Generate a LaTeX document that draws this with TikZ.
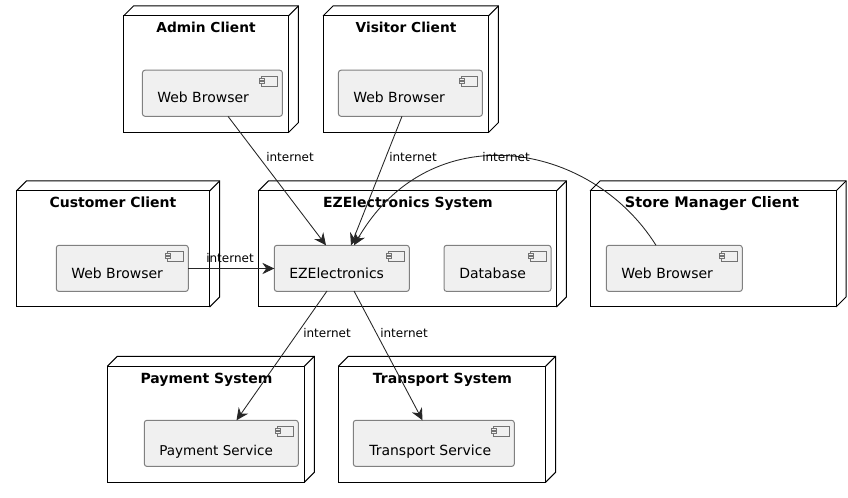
\documentclass[tikz,border=0pt]{standalone}
\usepackage{fontspec}
\setmainfont{DejaVu Sans}
\usetikzlibrary{arrows.meta}

\tikzset{
	hostbox/.style = {draw, line width = 0.75pt, rectangle, anchor = north west, inner sep = 0pt, outer sep = 0pt},
	partbox/.style = {draw = black!50, fill = black!6, line width = 0.75pt, rounded corners = 2pt,
		anchor = north west, inner sep = 0pt, outer sep = 0pt},
	partname/.style = {anchor = base west, inner sep = 0pt, font = \fontsize{10.5}{12}\selectfont},
	hosttitle/.style = {anchor = base, inner sep = 0pt, font = \fontsize{10.5}{12}\selectfont\bfseries},
	wirelabel/.style = {anchor = base west, inner sep = 0pt, font = \fontsize{9}{11}\selectfont},
	wire/.style = {-{Stealth[length = 9pt, width = 8.5pt, inset = 3pt]}, line width = 0.65pt, black!85},
}

% top and side faces of a host box
\newcommand{\hostlid}[1]{
	\draw [line width = 0.75pt] (#1.north west) -- ++(7.5pt, 7.5pt) -- ([shift = {(7.5pt, 7.5pt)}] #1.north east)
		-- ([shift = {(7.5pt, 7.5pt)}] #1.south east) -- (#1.south east);
	\draw [line width = 0.75pt] (#1.north east) -- ++(7.5pt, 7.5pt);
}

% small component mark at the corner of a part box
\newcommand{\partmark}[1]{
	\draw [line width = 0.5pt, black!55] ([shift = {(-15.5pt, -4.25pt)}] #1.north east) rectangle ([shift = {(-3.75pt, -11.75pt)}] #1.north east);
	\draw [line width = 0.5pt, black!55, fill = black!6] ([shift = {(-17pt, -6pt)}] #1.north east) rectangle ++(3.5pt, -1.5pt);
	\draw [line width = 0.5pt, black!55, fill = black!6] ([shift = {(-17pt, -8.5pt)}] #1.north east) rectangle ++(3.5pt, -1.5pt);
}

\begin{document}
\begin{tikzpicture}[x = 0.75pt, y = -0.75pt]

	\useasboundingbox (0, 0) rectangle (848, 498);

	% hosts
	\node [hostbox, minimum width = 123.6pt, minimum height = 87.5pt] (adminHost) at (123.5, 16) {};
	\node [hostbox, minimum width = 124pt, minimum height = 87.5pt] (visitorHost) at (323, 16) {};
	\node [hostbox, minimum width = 145pt, minimum height = 87pt] (customerHost) at (16.3, 191) {};
	\node [hostbox, minimum width = 223.5pt, minimum height = 87pt] (systemHost) at (258.3, 191) {};
	\node [hostbox, minimum width = 184.5pt, minimum height = 87pt] (managerHost) at (590, 191) {};
	\node [hostbox, minimum width = 147.75pt, minimum height = 87pt] (paymentHost) at (107.3, 366.3) {};
	\node [hostbox, minimum width = 155.5pt, minimum height = 87pt] (transportHost) at (338.3, 366.3) {};

	\foreach \hostname in {adminHost, visitorHost, customerHost, systemHost, managerHost, paymentHost, transportHost}
		\hostlid{\hostname};

	\node [hosttitle, font = \fontsize{10.3}{12}\selectfont\bfseries] at (206, 32.5) {Admin Client};
	\node [hosttitle, font = \fontsize{10.3}{12}\selectfont\bfseries] at (406, 32.5) {Visitor Client};
	\node [hosttitle] at (113, 207.5) {Customer Client};
	\node [hosttitle] at (408, 207.5) {EZElectronics System};
	\node [hosttitle, font = \fontsize{10.9}{12}\selectfont\bfseries] at (712, 207.5) {Store Manager Client};
	\node [hosttitle] at (206.5, 383.5) {Payment System};
	\node [hosttitle] at (442.5, 383.5) {Transport System};

	% parts
	\node [partbox, minimum width = 105pt, minimum height = 34.6pt] (adminWeb) at (142.4, 70.2) {};
	\node [partbox, minimum width = 108pt, minimum height = 34.6pt] (visitorWeb) at (338.4, 70.2) {};
	\node [partbox, minimum width = 99pt, minimum height = 34.6pt] (customerWeb) at (56.3, 245.3) {};
	\node [partbox, minimum width = 101.25pt, minimum height = 34.6pt] (mainPart) at (274.3, 245.3) {};
	\node [partbox, minimum width = 80.25pt, minimum height = 34.6pt] (dbPart) at (444, 245.3) {};
	\node [partbox, minimum width = 102pt, minimum height = 34.6pt] (managerWeb) at (606.3, 245.3) {};
	\node [partbox, minimum width = 115.5pt, minimum height = 34.6pt] (paymentPart) at (144.3, 420.3) {};
	\node [partbox, minimum width = 120.75pt, minimum height = 34.6pt] (transportPart) at (353.3, 420.3) {};

	\foreach \partname in {adminWeb, visitorWeb, customerWeb, mainPart, dbPart, managerWeb, paymentPart, transportPart}
		\partmark{\partname};

	\node [partname] at (157, 103) {Web Browser};
	\node [partname] at (353, 103) {Web Browser};
	\node [partname] at (71, 279) {Web Browser};
	\node [partname] at (289, 279) {EZElectronics};
	\node [partname] at (459, 279) {Database};
	\node [partname] at (621, 279) {Web Browser};
	\node [partname, font = \fontsize{10.15}{12}\selectfont] at (159, 455) {Payment Service};
	\node [partname] at (369, 455) {Transport Service};

	% connectors
	\coordinate (mainTopA) at (326, 245.3);
	\coordinate (mainTopB) at (351, 245.3);
	\coordinate (mainTopC) at (354, 245.3);
	\coordinate (mainLeft) at (274.3, 268.5);
	\coordinate (mainBottomA) at (327, 291);
	\coordinate (mainBottomB) at (354, 291);

	\draw [wire] (adminWeb.south -| 228, 0) -- (mainTopA);
	\draw [wire] (visitorWeb.south -| 402, 0) -- (mainTopB);
	\draw [wire] (customerWeb.east |- mainLeft) -- (mainLeft);
	\draw [wire] (managerWeb.north -| 656, 0) .. controls (590, 140) and (430, 114) .. (mainTopC);
	\draw [wire] (mainBottomA) -- (paymentPart.north -| 236.5, 0);
	\draw [wire] (mainBottomB) -- (transportPart.north -| 422.5, 0);

	\node [wirelabel] at (266, 161.5) {internet};
	\node [wirelabel] at (389, 161.5) {internet};
	\node [wirelabel] at (482, 161.5) {internet};
	\node [wirelabel] at (206, 262.5) {internet};
	\node [wirelabel] at (303, 337.5) {internet};
	\node [wirelabel] at (380, 337.5) {internet};

\end{tikzpicture}
\end{document}
